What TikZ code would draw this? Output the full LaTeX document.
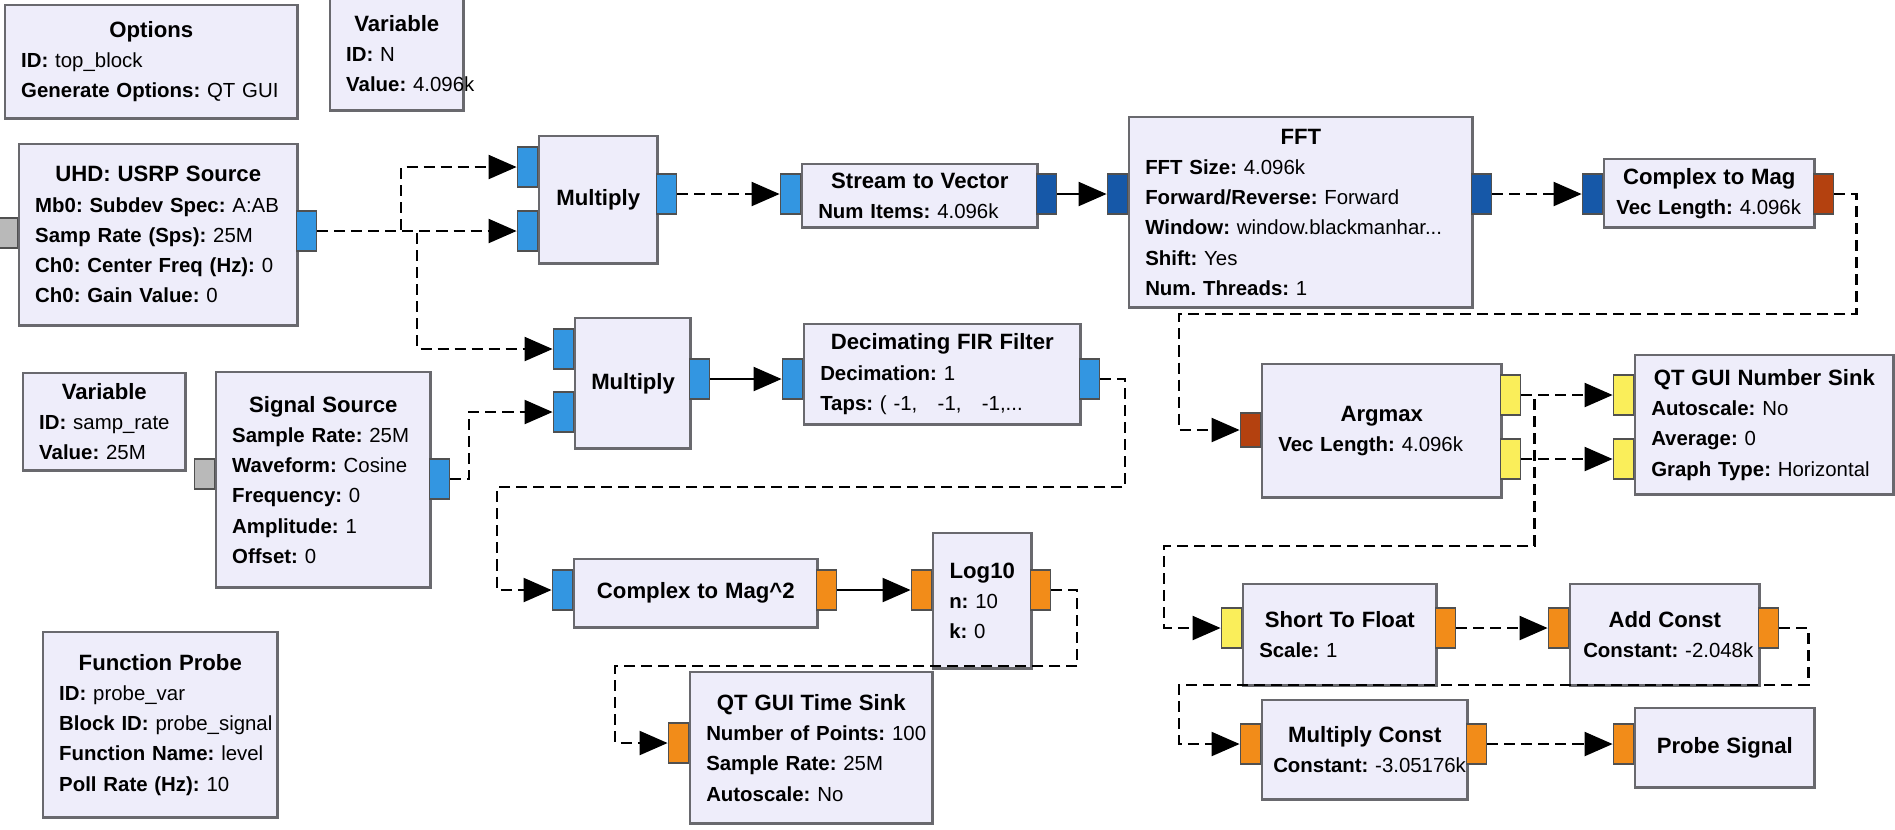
\documentclass[tikz,border=0pt]{standalone}
\usepackage{fontspec}
\setmainfont{Liberation Sans}
\usetikzlibrary{arrows.meta}

\definecolor{blkfill}{RGB}{238,237,250}
\definecolor{blkline}{RGB}{105,105,110}
\definecolor{portline}{RGB}{80,80,80}
\definecolor{cplx}{RGB}{51,150,225}
\definecolor{cvec}{RGB}{22,88,168}
\definecolor{fvec}{RGB}{180,65,15}
\definecolor{flt}{RGB}{242,140,25}
\definecolor{shrt}{RGB}{250,238,90}
\definecolor{msg}{RGB}{185,185,185}

\frenchspacing
\newcommand\kv[2]{\mbox{\textbf{#1:} #2}}
\newcommand\blkhead[1]{{\centering\fontsize{6.3}{8.6}\selectfont\mbox{\bfseries #1}\par}}

\tikzset{
  blk/.style={draw=blkline, fill=blkfill, line width=0.7pt, anchor=north west,
              inner xsep=0.16cm, inner ysep=0pt, align=left,
              font=\fontsize{5.8}{8.6}\selectfont},
  port/.style={draw=portline, line width=0.4pt, minimum width=0.2cm,
               minimum height=0.4cm, inner sep=0pt},
  flow/.style={line width=0.6pt, dash pattern=on 0.11cm off 0.06cm,
               -{Triangle[length=0.28cm,width=0.24cm]}},
  flowsolid/.style={flow, solid},
}

\begin{document}
\begin{tikzpicture}[x=0.01cm, y=-0.01cm]
    \useasboundingbox (0,0) rectangle (1895,829);

    % variables and options
    \node[blk, text width=2.60cm, minimum height=1.13cm] (opts) at (4,4)
      {\blkhead{Options}\kv{ID}{top\_block}\\ \kv{Generate Options}{QT GUI}};
    \node[blk, text width=1.01cm, minimum height=1.13cm] (varn) at (329,-4)
      {\blkhead{Variable}\kv{ID}{N}\\ \kv{Value}{4.096k}};
    \node[blk, text width=1.30cm, minimum height=0.97cm] (varrate) at (22,372)
      {\blkhead{Variable}\kv{ID}{samp\_rate}\\ \kv{Value}{25M}};
    \node[blk, text width=2.02cm, minimum height=1.85cm] (fprobe) at (42,631)
      {\blkhead{Function Probe}\kv{ID}{probe\_var}\\ \kv{Block ID}{probe\_signal}\\
       \kv{Function Name}{level}\\ \kv{Poll Rate (Hz)}{10}};

    % sources
    \node[blk, text width=2.46cm, minimum height=1.81cm] (usrp) at (18,143)
      {\blkhead{UHD: USRP Source}\kv{Mb0: Subdev Spec}{A:AB}\\ \kv{Samp Rate (Sps)}{25M}\\
       \kv{Ch0: Center Freq (Hz)}{0}\\ \kv{Ch0: Gain Value}{0}};
    \node[blk, text width=1.82cm, minimum height=2.15cm] (sig) at (215,371)
      {\blkhead{Signal Source}\kv{Sample Rate}{25M}\\ \kv{Waveform}{Cosine}\\
       \kv{Frequency}{0}\\ \kv{Amplitude}{1}\\ \kv{Offset}{0}};

    % upper chain
    \node[blk, text width=0.86cm, minimum height=1.27cm] (mul1) at (538,135) {\blkhead{Multiply}};
    \node[blk, text width=2.03cm, minimum height=0.63cm] (s2v) at (801,163)
      {\blkhead{Stream to Vector}\kv{Num Items}{4.096k}};
    \node[blk, text width=3.11cm, minimum height=1.90cm] (fft) at (1128,116)
      {\blkhead{FFT}\kv{FFT Size}{4.096k}\\ \kv{Forward/Reverse}{Forward}\\
       \kv{Window}{window.blackmanhar...}\\ \kv{Shift}{Yes}\\ \kv{Num. Threads}{1}};
    \node[blk, inner xsep=0.12cm, text width=1.86cm, minimum height=0.68cm] (c2m) at (1603,158)
      {\blkhead{Complex to Mag}\kv{Vec Length}{4.096k}};

    % lower chain
    \node[blk, text width=0.83cm, minimum height=1.30cm] (mul2) at (574,317) {\blkhead{Multiply}};
    \node[blk, text width=2.44cm, minimum height=1.00cm] (fir) at (803,323)
      {\blkhead{Decimating FIR Filter}\kv{Decimation}{1}\\ \kv{Taps}{(~-1,~~~-1,~~~-1,...}};
    \node[blk, text width=2.11cm, minimum height=0.68cm] (c2m2) at (573,558)
      {\blkhead{Complex to Mag\textasciicircum{}2}};
    \node[blk, text width=0.66cm, minimum height=1.35cm] (log) at (932,532)
      {\blkhead{Log10}\kv{n}{10}\\ \kv{k}{0}};
    \node[blk, text width=2.10cm, minimum height=1.51cm] (tsink) at (689,671)
      {\blkhead{QT GUI Time Sink}\kv{Number of Points}{100}\\ \kv{Sample Rate}{25M}\\
       \kv{Autoscale}{No}};

    % argmax chain
    \node[blk, text width=2.07cm, minimum height=1.33cm] (arg) at (1261,363)
      {\blkhead{Argmax}\kv{Vec Length}{4.096k}};
    \node[blk, text width=2.26cm, minimum height=1.39cm] (nsink) at (1634,354)
      {\blkhead{QT GUI Number Sink}\kv{Autoscale}{No}\\ \kv{Average}{0}\\
       \kv{Graph Type}{Horizontal}};
    \node[blk, text width=1.61cm, minimum height=1.01cm] (stf) at (1242,583)
      {\blkhead{Short To Float}\kv{Scale}{1}};
    \node[blk, inner xsep=0.13cm, text width=1.63cm, minimum height=1.01cm] (addc) at (1569,583)
      {\blkhead{Add Const}\kv{Constant}{-2.048k}};
    \node[blk, inner xsep=0.11cm, text width=1.83cm, minimum height=0.99cm] (mulc) at (1261,699)
      {\blkhead{Multiply Const}\kv{Constant}{-3.05176k}};
    \node[blk, text width=1.47cm, minimum height=0.79cm] (probe) at (1634,707)
      {\blkhead{Probe Signal}};

    % ports
    \node[port, fill=msg, minimum height=0.3cm, anchor=east] (usrp-g) at (18,233) {};
    \node[port, fill=cplx, anchor=west] (usrp-o) at (296,231) {};
    \node[port, fill=msg, minimum height=0.3cm, anchor=east] (sig-g) at (215,474) {};
    \node[port, fill=cplx, anchor=west] (sig-o) at (429,479) {};
    \node[port, fill=cplx, anchor=east] (mul1-i0) at (538,167) {};
    \node[port, fill=cplx, anchor=east] (mul1-i1) at (538,231) {};
    \node[port, fill=cplx, anchor=west] (mul1-o) at (656,194) {};
    \node[port, fill=cplx, anchor=east] (s2v-i) at (801,194) {};
    \node[port, fill=cvec, anchor=west] (s2v-o) at (1036,194) {};
    \node[port, fill=cvec, anchor=east] (fft-i) at (1128,194) {};
    \node[port, fill=cvec, anchor=west] (fft-o) at (1471,194) {};
    \node[port, fill=cvec, anchor=east] (c2m-i) at (1603,194) {};
    \node[port, fill=fvec, anchor=west] (c2m-o) at (1813,194) {};
    \node[port, fill=cplx, anchor=east] (mul2-i0) at (574,349) {};
    \node[port, fill=cplx, anchor=east] (mul2-i1) at (574,412) {};
    \node[port, fill=cplx, anchor=west] (mul2-o) at (689,379) {};
    \node[port, fill=cplx, anchor=east] (fir-i) at (803,379) {};
    \node[port, fill=cplx, anchor=west] (fir-o) at (1079,379) {};
    \node[port, fill=cplx, anchor=east] (c2m2-i) at (573,590) {};
    \node[port, fill=flt, anchor=west] (c2m2-o) at (816,590) {};
    \node[port, fill=flt, anchor=east] (log-i) at (932,590) {};
    \node[port, fill=flt, anchor=west] (log-o) at (1030,590) {};
    \node[port, fill=flt, anchor=east] (ts-i) at (689,743) {};
    \node[port, fill=fvec, minimum height=0.34cm, anchor=east] (arg-i) at (1261,430) {};
    \node[port, fill=shrt, anchor=west] (arg-o0) at (1500,395) {};
    \node[port, fill=shrt, anchor=west] (arg-o1) at (1500,459) {};
    \node[port, fill=shrt, anchor=east] (ns-i0) at (1634,395) {};
    \node[port, fill=shrt, anchor=east] (ns-i1) at (1634,459) {};
    \node[port, fill=shrt, anchor=east] (stf-i) at (1242,628) {};
    \node[port, fill=flt, anchor=west] (stf-o) at (1435,628) {};
    \node[port, fill=flt, anchor=east] (addc-i) at (1569,628) {};
    \node[port, fill=flt, anchor=west] (addc-o) at (1758,628) {};
    \node[port, fill=flt, anchor=east] (mulc-i) at (1261,744) {};
    \node[port, fill=flt, anchor=west] (mulc-o) at (1466,744) {};
    \node[port, fill=flt, anchor=east] (probe-i) at (1634,744) {};

    % connections
    \draw[flow] (usrp-o.east) -- (mul1-i1.west);
    \draw[flow] (usrp-o.east) -- ++(84,0) |- (mul1-i0.west);
    \draw[flow] (usrp-o.east) -- ++(100,0) |- (mul2-i0.west);
    \draw[flow] (sig-o.east) -- ++(19,0) |- (mul2-i1.west);
    \draw[flow] (mul1-o.east) -- (s2v-i.west);
    \draw[flowsolid] (s2v-o.east) -- (fft-i.west);
    \draw[flow] (fft-o.east) -- (c2m-i.west);
    \draw[flow] (c2m-o.east) -- ++(22,0) -- ++(0,120) -- ++(-677,0) |- (arg-i.west);
    \draw[flowsolid] (mul2-o.east) -- (fir-i.west);
    \draw[flow] (fir-o.east) -- ++(25,0) -- ++(0,108) -- ++(-628,0) |- (c2m2-i.west);
    \draw[flowsolid] (c2m2-o.east) -- (log-i.west);
    \draw[flow] (log-o.east) -- ++(26,0) -- ++(0,76) -- ++(-462,0) |- (ts-i.west);
    \draw[flow] (arg-o0.east) -- (ns-i0.west);
    \draw[flow] (arg-o1.east) -- (ns-i1.west);
    \draw[flow] (arg-o0.east) -- ++(13,0) -- ++(0,151) -- ++(-370,0) |- (stf-i.west);
    \draw[flow] (stf-o.east) -- (addc-i.west);
    \draw[flow] (addc-o.east) -- ++(29,0) -- ++(0,57) -- ++(-629,0) |- (mulc-i.west);
    \draw[flow] (mulc-o.east) -- (probe-i.west);
\end{tikzpicture}
\end{document}
